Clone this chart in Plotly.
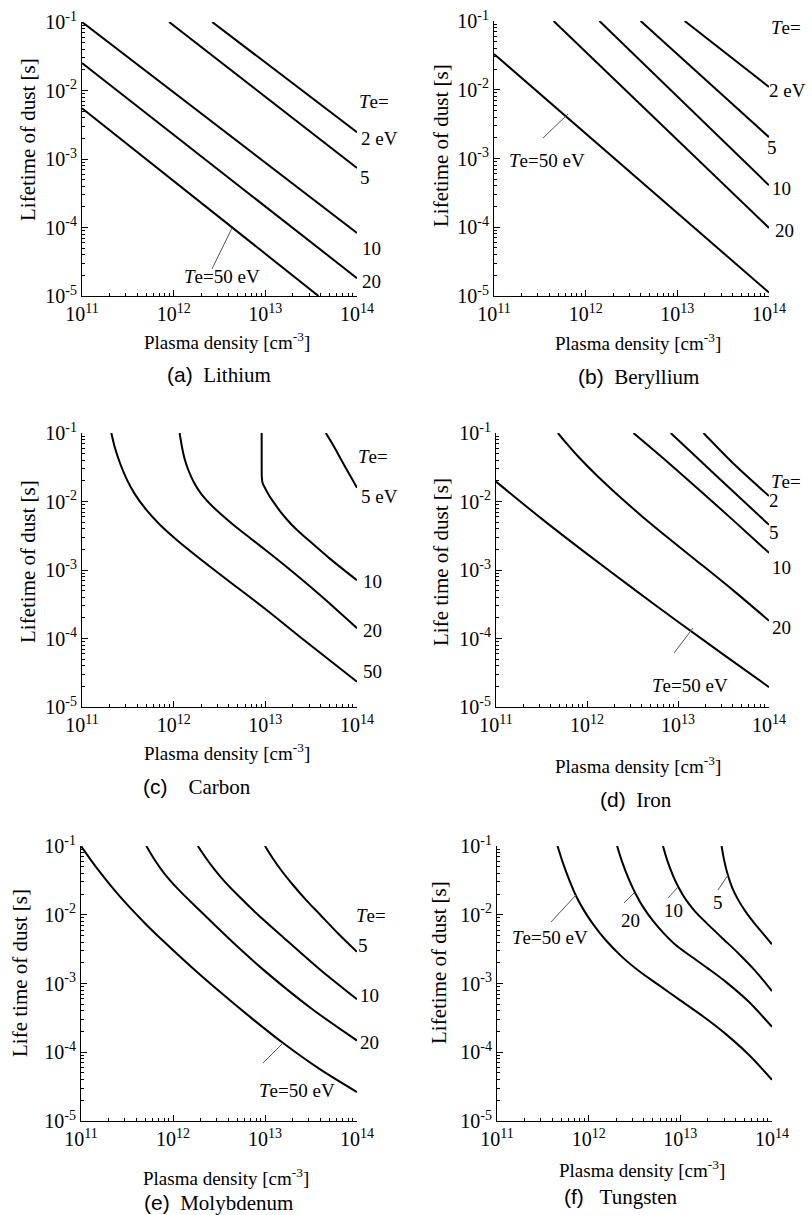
import numpy as np
import plotly.graph_objects as go

# ---------------------------------------------------------------
# Dust lifetime vs. plasma density for several wall materials.
# Values are log10(density [cm^-3]) and log10(lifetime [s]).
# ---------------------------------------------------------------

# (a) Lithium
li_te = ["2", "5", "10", "20", "50"]
li_logn = [[12.42, 14.0], [11.95, 14.0], [11.0, 14.0], [11.0, 14.0], [11.0, 13.58]]
li_logt = [[-1.0, -2.61], [-1.0, -3.13], [-1.0, -4.08], [-1.60, -4.74], [-2.26, -5.0]]

# (b) Beryllium
be_te = ["2", "5", "10", "20", "50"]
be_logn = [[13.08, 14.0], [12.60, 14.0], [12.15, 14.0], [11.65, 14.0], [11.0, 14.0]]
be_logt = [[-1.0, -1.96], [-1.0, -2.69], [-1.0, -3.39], [-1.0, -4.01], [-1.48, -4.95]]

# (c) Carbon
c_te = ["5", "10", "20", "50"]
c_logn = [
    [13.66, 13.75, 13.84, 13.92, 14.0],
    [12.96, 12.96, 12.962, 12.97, 12.995, 13.04, 13.09, 13.16, 13.24, 13.34, 13.45, 13.7, 14.0],
    [12.065, 12.09, 12.12, 12.16, 12.22, 12.30, 12.40, 12.52, 12.66, 12.85, 13.05, 13.3, 13.6, 14.0],
    [11.32, 11.36, 11.42, 11.49, 11.58, 11.70, 11.85, 12.05, 12.3, 12.6, 13.0, 13.4, 14.0],
]
c_logt = [
    [-1.0, -1.20, -1.42, -1.61, -1.80],
    [-1.0, -1.40, -1.65, -1.73, -1.80, -1.91, -2.01, -2.14, -2.27, -2.41, -2.54, -2.83, -3.15],
    [-1.0, -1.20, -1.38, -1.54, -1.72, -1.89, -2.04, -2.19, -2.35, -2.55, -2.76, -3.03, -3.37, -3.85],
    [-1.0, -1.22, -1.46, -1.68, -1.90, -2.12, -2.34, -2.58, -2.85, -3.16, -3.57, -4.0, -4.63],
]

# (d) Iron
fe_te = ["2", "5", "10", "20", "50"]
fe_logn = [
    [13.28, 13.62, 14.0],
    [12.92, 13.45, 14.0],
    [12.51, 12.9, 13.25, 13.62, 14.0],
    [11.68, 11.78, 11.9, 12.1, 12.35, 12.6, 12.9, 13.2, 13.6, 14.0],
    [11.0, 11.5, 12.0, 12.5, 13.0, 13.5, 14.0],
]
fe_logt = [
    [-1.0, -1.46, -1.92],
    [-1.0, -1.66, -2.34],
    [-1.0, -1.44, -1.85, -2.29, -2.75],
    [-1.0, -1.16, -1.34, -1.61, -1.92, -2.21, -2.54, -2.86, -3.29, -3.74],
    [-1.71, -2.25, -2.765, -3.265, -3.755, -4.235, -4.71],
]

# (e) Molybdenum
mo_te = ["5", "10", "20", "50"]
mo_logn = [
    [13.0, 13.08, 13.18, 13.3, 13.45, 13.6, 13.8, 14.0],
    [12.27, 12.35, 12.45, 12.55, 12.7, 12.9, 13.2, 13.6, 14.0],
    [11.71, 11.8, 11.9, 12.05, 12.3, 12.65, 13.0, 13.5, 14.0],
    [11.0, 11.1, 11.2, 11.35, 11.5, 11.7, 11.9, 12.2, 12.5, 12.85, 13.2, 13.6, 14.0],
]
mo_logt = [
    [-1.0, -1.17, -1.36, -1.56, -1.79, -2.00, -2.28, -2.54],
    [-1.0, -1.16, -1.34, -1.50, -1.71, -1.97, -2.33, -2.80, -3.23],
    [-1.0, -1.20, -1.39, -1.62, -1.95, -2.40, -2.82, -3.36, -3.83],
    [-1.0, -1.19, -1.37, -1.62, -1.85, -2.13, -2.39, -2.76, -3.11, -3.50, -3.87, -4.25, -4.58],
]

# (f) Tungsten
w_te = ["5", "10", "20", "50"]
w_logn = [
    [13.45, 13.48, 13.52, 13.57, 13.63, 13.71, 13.8, 13.9, 14.0],
    [12.81, 12.86, 12.92, 12.98, 13.06, 13.16, 13.27, 13.45, 13.64, 13.82, 14.0],
    [12.31, 12.37, 12.44, 12.51, 12.60, 12.70, 12.82, 12.95, 13.1, 13.3, 13.5, 13.75, 14.0],
    [11.66, 11.72, 11.79, 11.86, 11.95, 12.05, 12.18, 12.37, 12.56, 12.75, 13.0, 13.25, 13.5, 13.75, 14.0],
]
w_logt = [
    [-1.0, -1.22, -1.43, -1.62, -1.78, -1.95, -2.11, -2.27, -2.43],
    [-1.0, -1.22, -1.43, -1.60, -1.78, -1.95, -2.10, -2.33, -2.57, -2.82, -3.11],
    [-1.0, -1.25, -1.49, -1.69, -1.90, -2.085, -2.27, -2.44, -2.59, -2.78, -2.98, -3.27, -3.63],
    [-1.0, -1.25, -1.50, -1.72, -1.94, -2.14, -2.36, -2.62, -2.83, -3.01, -3.245, -3.48, -3.74, -4.04, -4.40],
]

panels = [
    ("(a)", "Lithium", li_logn, li_logt, "Lifetime of dust [s]"),
    ("(b)", "Beryllium", be_logn, be_logt, "Lifetime of dust [s]"),
    ("(c)", "Carbon", c_logn, c_logt, "Lifetime of dust [s]"),
    ("(d)", "Iron", fe_logn, fe_logt, "Life time of dust [s]"),
    ("(e)", "Molybdenum", mo_logn, mo_logt, "Life time of dust [s]"),
    ("(f)", "Tungsten", w_logn, w_logt, "Lifetime of dust [s]"),
]

x_decades = [11, 12, 13, 14]
y_decades = [-5, -4, -3, -2, -1]

# ---------------------------------------------------------------
# layout geometry (pixels)
# ---------------------------------------------------------------
W, H = 812, 1215
SERIF = "Liberation Serif, Times New Roman, serif"
SANS = "Liberation Sans, Arial, sans-serif"

frames = [  # left, right, top, bottom
    (82, 357, 22, 296),
    (494, 769, 21, 296),
    (82, 357, 433, 707),
    (496, 769, 433, 707),
    (81, 357, 846, 1121),
    (497, 772, 846, 1121),
]
ytitle_pos = [(28, 140), (441, 146), (28, 562), (441, 562), (20, 973), (439, 963)]
xtitle_pos = [(227, 341), (638, 342), (227, 752), (638, 765), (226, 1177), (642, 1169)]
caption = [
    (219, 375, "(a)", "  Lithium"),
    (638, 377, "(b)", "  Beryllium"),
    (197, 787, "(c)", "    Carbon"),
    (636, 800, "(d)", "  Iron"),
    (219, 1203, "(e)", "  Molybdenum"),
    (620, 1197, "(f)", "   Tungsten"),
]


def px(x, y):
    return x / W, 1 - y / H


def minor_vals(decades):
    return [k * 10.0 ** d for d in decades[:-1] for k in range(2, 10)]


fig = go.Figure()
layout_axes = {}

for i, (tag, name, logn, logt, ytitle) in enumerate(panels):
    k = "" if i == 0 else str(i + 1)
    for xs, ys in zip(logn, logt):
        fig.add_trace(go.Scatter(
            x=10 ** np.array(xs), y=10 ** np.array(ys),
            mode="lines", line=dict(color="black", width=2, shape="spline", smoothing=0.8),
            xaxis="x" + k, yaxis="y" + k, showlegend=False, hoverinfo="skip",
        ))
    l, r, t, b = frames[i]
    common = dict(
        type="log", showgrid=False, zeroline=False, showline=True, automargin=False,
        linecolor="black", linewidth=1, mirror=False,
        ticks="inside", ticklen=6, tickwidth=1, tickcolor="black",
        tickmode="array",
        tickfont=dict(family=SERIF, size=20, color="black"),
    )
    layout_axes["xaxis" + k] = dict(
        common, range=[11, 14], domain=[l / W, r / W], anchor="y" + k,
        tickvals=[10.0 ** d for d in x_decades],
        ticktext=[f"10<sup>{d}</sup>" for d in x_decades],
        minor=dict(ticks="inside", ticklen=3, tickwidth=1, tickcolor="black",
                   tickmode="array", tickvals=minor_vals(x_decades), showgrid=False),
    )
    layout_axes["yaxis" + k] = dict(
        common, range=[-5, -1], domain=[1 - b / H, 1 - t / H], anchor="x" + k,
        tickvals=[10.0 ** d for d in y_decades],
        ticktext=[f"10<sup>{d}</sup>" for d in y_decades],
        minor=dict(ticks="inside", ticklen=3, tickwidth=1, tickcolor="black",
                   tickmode="array", tickvals=minor_vals(y_decades), showgrid=False),
    )

annotations = []
shapes = []


def label(x, y, text, size=19, family=SERIF, angle=0):
    xp, yp = px(x, y)
    annotations.append(dict(
        x=xp, y=yp, xref="paper", yref="paper", text=text, showarrow=False,
        xanchor="center", yanchor="middle", textangle=angle,
        font=dict(family=family, size=size, color="black"),
    ))


def leader(x0, y0, x1, y1):
    a, b_ = px(x0, y0)
    c, d = px(x1, y1)
    shapes.append(dict(type="line", xref="paper", yref="paper", x0=a, y0=b_, x1=c, y1=d,
                       line=dict(color="#555555", width=1)))


for i, (tag, name, logn, logt, ytitle) in enumerate(panels):
    label(*ytitle_pos[i], ytitle, size=21, angle=-90)
    label(*xtitle_pos[i], "Plasma density [cm<sup>-3</sup>]", size=19)
    cx, cy, tg, nm = caption[i]
    label(cx, cy, f"<span style='font-family:{SANS}'>{tg}</span>{nm.replace(' ', '&nbsp;')}", size=21)

TE = "<i>T</i>e="
# (a)
label(374, 102, TE); label(379, 138, "2 eV"); label(365, 177, "5")
label(371, 248, "10"); label(371, 282, "20"); label(222, 276, TE + "50 eV")
leader(212, 269, 232, 228)
# (b)
label(786, 28, TE); label(787, 90, "2 eV"); label(772, 148, "5")
label(781, 188, "10"); label(784, 230, "20"); label(547, 160, TE + "50 eV")
leader(543, 138, 568, 114)
# (c)
label(373, 457, TE); label(379, 497, "5 eV"); label(372, 582, "10")
label(372, 630, "20"); label(372, 672, "50")
# (d)
label(786, 481, TE); label(774, 501, "2"); label(774, 532, "5")
label(781, 567, "10"); label(781, 627, "20"); label(690, 685, TE + "50 eV")
leader(674, 653, 693, 628)
# (e)
label(371, 915, TE); label(363, 945, "5"); label(369, 995, "10")
label(369, 1042, "20"); label(297, 1090, TE + "50 eV")
leader(263, 1063, 283, 1043)
# (f)
label(718, 902, "5"); leader(718, 890, 728, 875)
label(673, 910, "10"); leader(668, 898, 678, 887)
label(630, 920, "20"); leader(624, 903, 634, 893)
label(550, 937, TE + "50 eV"); leader(551, 922, 576, 895)

fig.update_layout(
    template="none",
    width=W, height=H, margin=dict(l=0, r=0, t=0, b=0, autoexpand=False),
    paper_bgcolor="white", plot_bgcolor="white",
    annotations=annotations, shapes=shapes, **layout_axes,
)

fig.write_html("out.html")
